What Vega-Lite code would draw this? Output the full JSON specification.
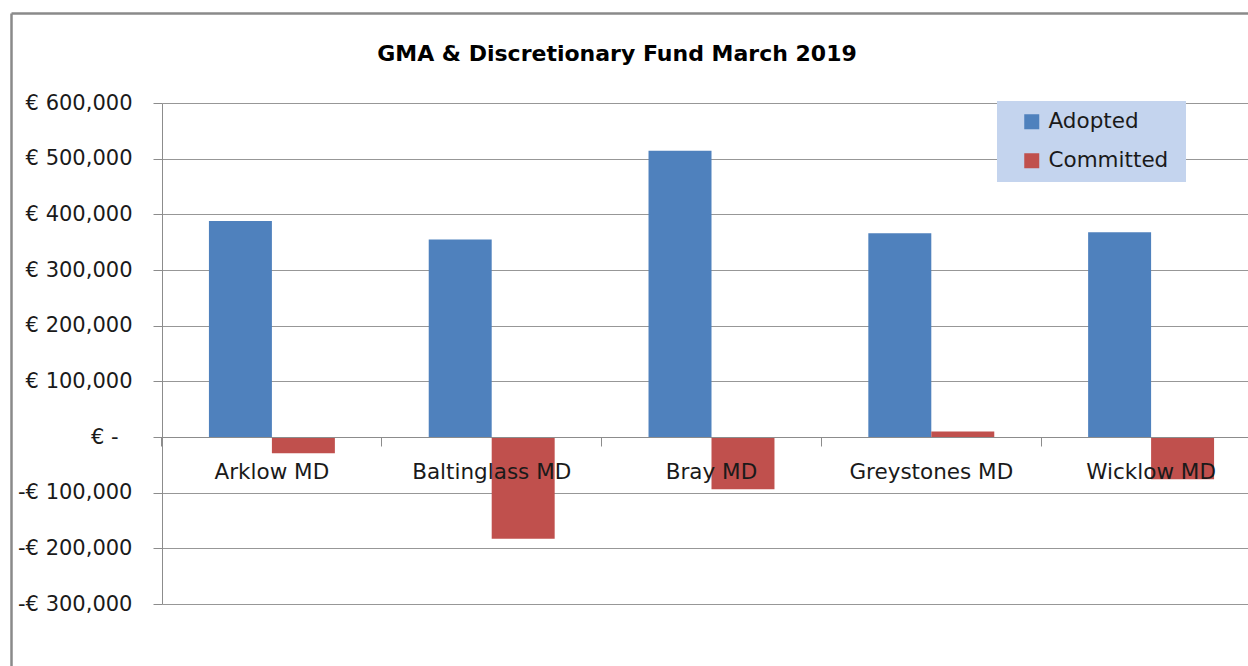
{
  "$schema": "https://vega.github.io/schema/vega-lite/v6.json",
  "autosize": {"type": "none"},
  "padding": {"left": 162, "top": 103, "right": 0, "bottom": 62},
  "width": 1086,
  "height": 501,
  "background": "#ffffff",
  "title": {
    "text": "GMA & Discretionary Fund March 2019",
    "font": "DejaVu Sans",
    "fontSize": 22,
    "fontWeight": "bold",
    "color": "#000000",
    "anchor": "middle",
    "frame": "group",
    "dx": -88,
    "offset": -56
  },
  "config": {
    "view": {"stroke": null},
    "font": "DejaVu Sans"
  },
  "layer": [
    {
      "data": {
        "values": [
          {"district": "Arklow MD", "series": "Adopted", "amount": 388000},
          {"district": "Arklow MD", "series": "Committed", "amount": -29000},
          {"district": "Baltinglass MD", "series": "Adopted", "amount": 355000},
          {"district": "Baltinglass MD", "series": "Committed", "amount": -183000},
          {"district": "Bray MD", "series": "Adopted", "amount": 514000},
          {"district": "Bray MD", "series": "Committed", "amount": -94000},
          {"district": "Greystones MD", "series": "Adopted", "amount": 366000},
          {"district": "Greystones MD", "series": "Committed", "amount": 10000},
          {"district": "Wicklow MD", "series": "Adopted", "amount": 368000},
          {"district": "Wicklow MD", "series": "Committed", "amount": -76000}
        ]
      },
      "mark": {"type": "bar"},
      "encoding": {
        "x": {
          "field": "district",
          "type": "nominal",
          "sort": null,
          "scale": {"range": [0, 1099], "paddingInner": 0.427, "paddingOuter": 0.2135},
          "axis": {
            "title": null,
            "orient": "bottom",
            "offset": -167,
            "zindex": 1,
            "labelAngle": 0,
            "labelFont": "DejaVu Sans",
            "labelFontSize": 21.5,
            "labelColor": "#1a1a1a",
            "labelPadding": 15,
            "bandPosition": -0.373,
            "labelDx": 110,
            "tickSize": 9,
            "tickColor": "#8c8c8c",
            "domainColor": "#8c8c8c",
            "grid": false
          }
        },
        "xOffset": {"field": "series", "type": "nominal", "scale": {"paddingInner": 0, "paddingOuter": 0}},
        "y": {
          "field": "amount",
          "type": "quantitative",
          "scale": {"domain": [-300000, 600000], "nice": false, "zero": false},
          "axis": {
            "title": null,
            "values": [-300000, -200000, -100000, 0, 100000, 200000, 300000, 400000, 500000, 600000],
            "labelExpr": "datum.value == 0 ? '€ -' : (datum.value < 0 ? '-€ ' + format(-datum.value, ',') : '€ ' + format(datum.value, ','))",
            "labelFont": "DejaVu Sans",
            "labelFontSize": 21,
            "labelColor": "#1a1a1a",
            "labelPadding": {"condition": {"test": "datum.value == 0", "value": 35}, "value": 21},
            "tickSize": 9,
            "tickColor": "#8c8c8c",
            "domainColor": "#8c8c8c",
            "gridColor": "#8c8c8c",
            "gridOpacity": 0.9
          }
        },
        "color": {
          "field": "series",
          "type": "nominal",
          "scale": {"domain": ["Adopted", "Committed"], "range": ["#4f81bd", "#c0504d"]},
          "legend": {
            "title": null,
            "orient": "none",
            "legendX": 835,
            "legendY": -2,
            "direction": "vertical",
            "fillColor": "#c4d4ee",
            "padding": 10,
            "symbolOffset": 14,
            "symbolType": "square",
            "symbolSize": 225,
            "symbolStrokeWidth": 0,
            "labelOffset": 6,
            "rowPadding": 16,
            "labelFont": "DejaVu Sans",
            "labelFontSize": 21.5,
            "labelColor": "#1a1a1a",
            "labelExpr": "datum.label + '\u00a0\u200b'"
          }
        }
      }
    },
    {
      "data": {"values": [{"f": 0}, {"f": 1}]},
      "mark": {"type": "point", "opacity": 0},
      "encoding": {
        "x": {
          "field": "f",
          "type": "quantitative",
          "scale": {"domain": [0, 1], "range": [-151, 1086], "nice": false, "zero": false},
          "axis": {"orient": "top", "offset": 90, "title": null, "labels": false, "ticks": false, "grid": false, "domainColor": "#8a8a8a", "domainWidth": 2.5}
        },
        "y": {
          "field": "f",
          "type": "quantitative",
          "scale": {"domain": [0, 1], "range": [563, -90], "nice": false, "zero": false},
          "axis": {"orient": "left", "offset": 151, "title": null, "labels": false, "ticks": false, "grid": false, "domainColor": "#8a8a8a", "domainWidth": 2.5}
        }
      }
    }
  ],
  "resolve": {
    "scale": {"x": "independent", "y": "independent"},
    "axis": {"x": "independent", "y": "independent"}
  }
}
